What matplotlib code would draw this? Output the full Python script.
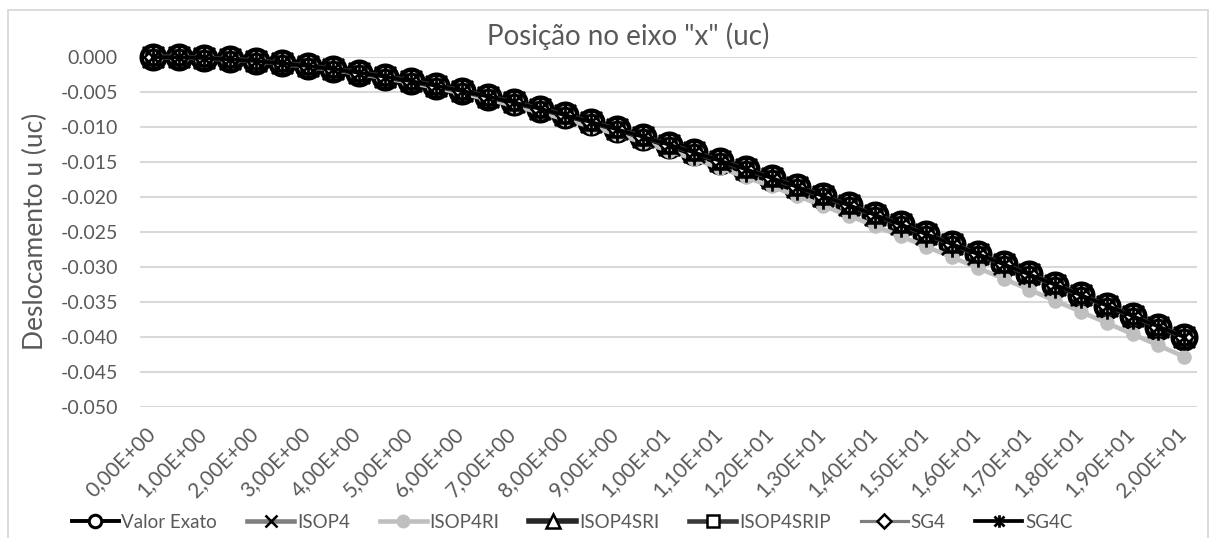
import matplotlib
matplotlib.use("Agg")
import matplotlib.pyplot as plt
from matplotlib.lines import Line2D
from matplotlib.path import Path
from matplotlib.patches import Rectangle
import matplotlib.transforms as mtransforms

plt.rcParams['font.family'] = ['Lato', 'DejaVu Sans']

# Positions along the bar (uc), one category every 0.5
positions = [0.0, 0.5, 1.0, 1.5, 2.0, 2.5, 3.0, 3.5, 4.0, 4.5,
             5.0, 5.5, 6.0, 6.5, 7.0, 7.5, 8.0, 8.5, 9.0, 9.5,
             10.0, 10.5, 11.0, 11.5, 12.0, 12.5, 13.0, 13.5, 14.0, 14.5,
             15.0, 15.5, 16.0, 16.5, 17.0, 17.5, 18.0, 18.5, 19.0, 19.5, 20.0]

valor_exato = [0.0, -0.00004, -0.00015, -0.00033, -0.00058, -0.00090, -0.00128, -0.00173, -0.00224, -0.00281,
               -0.00344, -0.00412, -0.00486, -0.00565, -0.00649, -0.00738, -0.00832, -0.00930, -0.01033, -0.01139,
               -0.01250, -0.01364, -0.01482, -0.01604, -0.01728, -0.01856, -0.01986, -0.02119, -0.02254, -0.02392,
               -0.02531, -0.02673, -0.02816, -0.02961, -0.03107, -0.03254, -0.03402, -0.03551, -0.03700, -0.03850, -0.04000]

isop4 = [0.0, -0.00004, -0.00015, -0.00033, -0.00058, -0.00090, -0.00128, -0.00173, -0.00224, -0.00281,
         -0.00344, -0.00412, -0.00486, -0.00565, -0.00649, -0.00738, -0.00832, -0.00930, -0.01033, -0.01139,
         -0.01250, -0.01364, -0.01482, -0.01604, -0.01728, -0.01856, -0.01986, -0.02119, -0.02254, -0.02392,
         -0.02531, -0.02673, -0.02816, -0.02961, -0.03107, -0.03254, -0.03402, -0.03551, -0.03700, -0.03850, -0.04000]

isop4ri = [0.0, -0.00004, -0.00016, -0.00035, -0.00062, -0.00096, -0.00137, -0.00185, -0.00240, -0.00301,
           -0.00368, -0.00441, -0.00520, -0.00605, -0.00695, -0.00790, -0.00890, -0.00995, -0.01105, -0.01219,
           -0.01338, -0.01460, -0.01586, -0.01716, -0.01849, -0.01985, -0.02125, -0.02267, -0.02412, -0.02559,
           -0.02709, -0.02860, -0.03013, -0.03168, -0.03324, -0.03482, -0.03640, -0.03799, -0.03959, -0.04120, -0.04280]

isop4sri = [0.0, -0.00004, -0.00015, -0.00033, -0.00058, -0.00090, -0.00128, -0.00173, -0.00224, -0.00281,
            -0.00344, -0.00412, -0.00486, -0.00565, -0.00649, -0.00738, -0.00832, -0.00930, -0.01033, -0.01139,
            -0.01250, -0.01364, -0.01482, -0.01604, -0.01728, -0.01856, -0.01986, -0.02119, -0.02254, -0.02392,
            -0.02531, -0.02673, -0.02816, -0.02961, -0.03107, -0.03254, -0.03402, -0.03551, -0.03700, -0.03850, -0.04000]

isop4srip = [0.0, -0.00004, -0.00015, -0.00033, -0.00058, -0.00090, -0.00128, -0.00173, -0.00224, -0.00281,
             -0.00344, -0.00412, -0.00486, -0.00565, -0.00649, -0.00738, -0.00832, -0.00930, -0.01033, -0.01139,
             -0.01250, -0.01364, -0.01482, -0.01604, -0.01728, -0.01856, -0.01986, -0.02119, -0.02254, -0.02392,
             -0.02531, -0.02673, -0.02816, -0.02961, -0.03107, -0.03254, -0.03402, -0.03551, -0.03700, -0.03850, -0.04000]

sg4 = [0.0, -0.00004, -0.00015, -0.00033, -0.00058, -0.00090, -0.00128, -0.00173, -0.00224, -0.00281,
       -0.00344, -0.00412, -0.00486, -0.00565, -0.00649, -0.00738, -0.00832, -0.00930, -0.01033, -0.01139,
       -0.01250, -0.01364, -0.01482, -0.01604, -0.01728, -0.01856, -0.01986, -0.02119, -0.02254, -0.02392,
       -0.02531, -0.02673, -0.02816, -0.02961, -0.03107, -0.03254, -0.03402, -0.03551, -0.03700, -0.03850, -0.04000]

sg4c = [0.0, -0.00004, -0.00015, -0.00033, -0.00058, -0.00090, -0.00128, -0.00173, -0.00224, -0.00281,
        -0.00344, -0.00412, -0.00486, -0.00565, -0.00649, -0.00738, -0.00832, -0.00930, -0.01033, -0.01139,
        -0.01250, -0.01364, -0.01482, -0.01604, -0.01728, -0.01856, -0.01986, -0.02119, -0.02254, -0.02392,
        -0.02531, -0.02673, -0.02816, -0.02961, -0.03107, -0.03254, -0.03402, -0.03551, -0.03700, -0.03850, -0.04000]

x_tick_labels = ["0,00E+00", "1,00E+00", "2,00E+00", "3,00E+00", "4,00E+00", "5,00E+00", "6,00E+00",
                 "7,00E+00", "8,00E+00", "9,00E+00", "1,00E+01", "1,10E+01", "1,20E+01", "1,30E+01",
                 "1,40E+01", "1,50E+01", "1,60E+01", "1,70E+01", "1,80E+01", "1,90E+01", "2,00E+01"]
y_ticks = [0.0, -0.005, -0.010, -0.015, -0.020, -0.025, -0.030, -0.035, -0.040, -0.045, -0.050]

series_names = ["Valor Exato", "ISOP4", "ISOP4RI", "ISOP4SRI", "ISOP4SRIP", "SG4", "SG4C"]

TEXT = "#595959"
GRID = "#d9d9d9"

# asterisk marker: vertical stroke plus two diagonals
asterisk = Path(
    [(0, -1), (0, 1), (-0.8, -0.8), (0.8, 0.8), (-0.8, 0.8), (0.8, -0.8)],
    [Path.MOVETO, Path.LINETO, Path.MOVETO, Path.LINETO, Path.MOVETO, Path.LINETO])

styles = [
    dict(color="#000000", lw=2.8, marker="o", mfc="white", mec="#000000", mew=3.2, ms=17, lms=9),
    dict(color="#7f7f7f", lw=3.3, marker="x", mfc="none", mec="#000000", mew=1.8, ms=13, lms=8),
    dict(color="#bfbfbf", lw=3.3, marker="o", mfc="#bfbfbf", mec="#bfbfbf", mew=1.0, ms=9.5, lms=9),
    dict(color="#262626", lw=4.0, marker="^", mfc="white", mec="#000000", mew=1.8, ms=12, lms=10),
    dict(color="#3a3a3a", lw=3.3, marker="s", mfc="white", mec="#000000", mew=1.8, ms=9.5, lms=8.5),
    dict(color="#7f7f7f", lw=2.3, marker="D", mfc="white", mec="#000000", mew=1.8, ms=9, lms=7.5),
    dict(color="#000000", lw=2.7, marker=asterisk, mfc="none", mec="#000000", mew=2.0, ms=19, lms=9),
]

all_series = [valor_exato, isop4, isop4ri, isop4sri, isop4srip, sg4, sg4c]

fig = plt.figure(figsize=(12.16, 5.38), dpi=100)
fig.patch.set_facecolor("white")

# chart area border
fig.patches.append(Rectangle((8 / 1216, -0.02), 1200 / 1216, 1 - 10 / 538 + 0.02,
                             transform=fig.transFigure, fill=False, ec=GRID, lw=1.3))

ax = fig.add_axes([140 / 1216, 1 - 407 / 538, 1057 / 1216, 350 / 538])

idx = list(range(len(positions)))
for name, vals, st in zip(series_names, all_series, styles):
    ax.plot(idx, vals, color=st["color"], lw=st["lw"], marker=st["marker"],
            mfc=st["mfc"], mec=st["mec"], mew=st["mew"], ms=st["ms"],
            solid_joinstyle="round", clip_on=False, zorder=3, label=name)

ax.set_xlim(-0.5, len(positions) - 0.5)
ax.set_ylim(-0.05, 0.0)
ax.set_yticks(y_ticks)
ax.set_yticklabels([f"{v:.3f}" for v in y_ticks])
ax.set_xticks(idx[::2])
ax.set_xticklabels([])

# rotated category labels, right end placed just under each category
label_offset = mtransforms.ScaledTranslation(-1 / 100, -24 / 100, fig.dpi_scale_trans)
label_trans = ax.get_xaxis_transform() + label_offset
for pos, txt in zip(idx[::2], x_tick_labels):
    ax.text(pos, 0, txt, transform=label_trans, rotation=45, ha="right", va="center",
            rotation_mode="anchor", fontsize=15, color=TEXT, clip_on=False)

ax.tick_params(axis="both", length=0, labelsize=14, labelcolor=TEXT)
ax.tick_params(axis="y", pad=16)
ax.grid(axis="y", color=GRID, lw=1.5)
ax.set_axisbelow(True)
for sp in ax.spines.values():
    sp.set_visible(False)

fig.text(35 / 1216, 1 - 231 / 538, "Deslocamento u (uc)", rotation=90, ha="center", va="center",
         fontsize=19, color=TEXT)
fig.text(628 / 1216, 1 - 45 / 538, 'Posição no eixo "x" (uc)', ha="center", va="baseline",
         fontsize=20, color=TEXT)

handles = [Line2D([], [], color=st["color"], lw=st["lw"], marker=st["marker"], mfc=st["mfc"],
                  mec=st["mec"], mew=min(st["mew"], 2.2), ms=st["lms"]) for st in styles]
leg = fig.legend(handles, series_names, loc="center", bbox_to_anchor=(572 / 1216, 1 - 522 / 538),
                 ncol=7, frameon=False, fontsize=13.5, handlelength=2.5, handletextpad=0.15,
                 columnspacing=1.6, borderaxespad=0)
for t in leg.get_texts():
    t.set_color(TEXT)

fig.savefig("out.png", dpi=100, facecolor="white")
